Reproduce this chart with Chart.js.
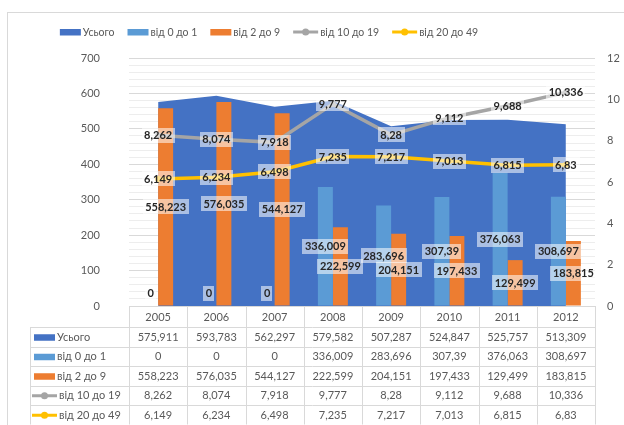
<!DOCTYPE html>
<html><head><meta charset="utf-8">
<script src="https://cdn.jsdelivr.net/npm/chart.js@4/dist/chart.umd.min.js"></script>
<style>html,body{margin:0;padding:0;background:#fff;}#wrap{width:624px;height:425px;position:relative;}</style>
</head><body><div id="wrap"><canvas id="c" width="624" height="425"></canvas></div>
<script>
const years = ['2005','2006','2007','2008','2009','2010','2011','2012'];
const total = [575.911, 593.783, 562.297, 579.582, 507.287, 524.847, 525.757, 513.309];
const age0to1 = [0, 0, 0, 336.009, 283.696, 307.39, 376.063, 308.697];
const age2to9 = [558.223, 576.035, 544.127, 222.599, 204.151, 197.433, 129.499, 183.815];
const age10to19 = [8.262, 8.074, 7.918, 9.777, 8.28, 9.112, 9.688, 10.336];
const age20to49 = [6.149, 6.234, 6.498, 7.235, 7.217, 7.013, 6.815, 6.83];
const seriesNames = ['Усього', 'від 0 до 1', 'від 2 до 9', 'від 10 до 19', 'від 20 до 49'];
const leftAxis = {min: 0, max: 700, major: 100, minor: 20};
const rightAxis = {min: 0, max: 12, step: 2};

const colors = ['#4472C4', '#5B9BD5', '#ED7D31', '#A5A5A5', '#FFC000'];
const kinds = ['rect', 'rect', 'rect', 'line', 'line'];
const allSeries = [total, age0to1, age2to9, age10to19, age20to49];
const FONT = 'Lato, "Open Sans", sans-serif';
const TXT = '#595959';
const fmt = v => String(v).replace('.', ',');

function drawKey(ctx, i, x, cy) {
  ctx.save();
  if (kinds[i] === 'rect') {
    ctx.fillStyle = colors[i];
    ctx.fillRect(x, cy - 3, 21, 6.5);
    ctx.restore();
    return 21;
  }
  ctx.strokeStyle = colors[i];
  ctx.lineWidth = 3;
  ctx.beginPath(); ctx.moveTo(x, cy); ctx.lineTo(x + 25, cy); ctx.stroke();
  ctx.fillStyle = colors[i];
  ctx.beginPath(); ctx.arc(x + 12.5, cy, 3.5, 0, Math.PI * 2); ctx.fill();
  ctx.restore();
  return 25;
}

const framePlugin = {
  id: 'frame',
  beforeDraw(chart) {
    const ctx = chart.ctx;
    ctx.save();
    ctx.fillStyle = '#fff';
    ctx.fillRect(0, 0, chart.width, chart.height);
    ctx.strokeStyle = '#D9D9D9';
    ctx.lineWidth = 1;
    ctx.strokeRect(7.5, 12.5, 800, 600);
    ctx.restore();
  }
};

const legendPlugin = {
  id: 'customLegend',
  afterDraw(chart) {
    const ctx = chart.ctx;
    ctx.save();
    ctx.font = '10.5px ' + FONT;
    const widths = seriesNames.map((n, i) => (kinds[i] === 'rect' ? 21 : 25) + 2 + ctx.measureText(n).width);
    const gap = 13;
    const totalW = widths.reduce((a, b) => a + b, 0) + gap * (widths.length - 1);
    const centerX = 269, cy = 32;
    let x = centerX - totalW / 2;
    seriesNames.forEach((n, i) => {
      const w = drawKey(ctx, i, x, cy);
      ctx.fillStyle = TXT;
      ctx.textBaseline = 'middle';
      ctx.textAlign = 'left';
      ctx.fillText(n, x + w + 2, cy + 0.5);
      x += widths[i] + gap;
    });
    ctx.restore();
  }
};

const labelPlugin = {
  id: 'boxLabels',
  afterDatasetsDraw(chart) {
    const ctx = chart.ctx;
    const ca = chart.chartArea;
    ctx.save();
    ctx.font = 'bold 11px ' + FONT;
    ctx.textAlign = 'center';
    ctx.textBaseline = 'middle';
    for (let d = 1; d < chart.data.datasets.length; d++) {
      const meta = chart.getDatasetMeta(d);
      const ds = chart.data.datasets[d];
      meta.data.forEach((el, i) => {
        const txt = fmt(ds.data[i]);
        let x = el.x, y;
        if (ds.type === 'bar') {
          y = (el.y + el.base) / 2;
          if (y > ca.bottom - 13) y = ca.bottom - 13;
        } else {
          y = el.y;
        }
        const w = ctx.measureText(txt).width + 5;
        const h = 15;
        ctx.fillStyle = 'rgba(255,255,255,0.55)';
        ctx.fillRect(Math.round(x - w / 2), Math.round(y - h / 2), Math.round(w), h);
        ctx.fillStyle = '#262626';
        ctx.fillText(txt, x, y + 0.5);
      });
    }
    ctx.restore();
  }
};

const tablePlugin = {
  id: 'dataTable',
  afterDraw(chart) {
    const ctx = chart.ctx;
    const ca = chart.chartArea;
    const xs = chart.scales.x;
    const n = years.length;
    const colW = (ca.right - ca.left) / n;
    const tableLeft = 30;
    const headerTop = ca.bottom;
    const headerH = 21;
    const rowH = 19.5;
    const bottom = headerTop + headerH + rowH * allSeries.length;
    const px = v => Math.round(v) + 0.5;
    ctx.save();
    ctx.strokeStyle = '#D9D9D9';
    ctx.lineWidth = 1;
    ctx.beginPath();
    ctx.moveTo(ca.left, px(headerTop)); ctx.lineTo(ca.right, px(headerTop));
    for (let r = 0; r <= allSeries.length; r++) {
      const y = px(headerTop + headerH + r * rowH);
      ctx.moveTo(tableLeft, y); ctx.lineTo(ca.right, y);
    }
    ctx.moveTo(px(tableLeft), headerTop + headerH); ctx.lineTo(px(tableLeft), bottom);
    for (let i = 0; i <= n; i++) {
      const x = px(ca.left + i * colW);
      ctx.moveTo(x, headerTop); ctx.lineTo(x, bottom);
    }
    ctx.stroke();

    ctx.font = '11px ' + FONT;
    ctx.fillStyle = TXT;
    ctx.textBaseline = 'middle';
    ctx.textAlign = 'center';
    years.forEach((yr, i) => {
      ctx.fillText(yr, xs.getPixelForValue(i), headerTop + headerH / 2 + 1);
    });
    allSeries.forEach((arr, r) => {
      const cy = headerTop + headerH + r * rowH + rowH / 2 + 0.5;
      ctx.textAlign = 'center';
      ctx.fillStyle = TXT;
      arr.forEach((v, i) => ctx.fillText(fmt(v), xs.getPixelForValue(i), cy));
      const kx = tableLeft + (kinds[r] === 'rect' ? 4 : 2);
      const w = drawKey(ctx, r, kx, cy);
      ctx.textAlign = 'left';
      ctx.fillStyle = TXT;
      ctx.fillText(seriesNames[r], kx + w + 2, cy);
    });
    ctx.restore();
  }
};

new Chart(document.getElementById('c'), {
  type: 'bar',
  data: {
    labels: years,
    datasets: [
      {type: 'line', label: seriesNames[0], data: total, yAxisID: 'y', fill: 'origin',
       backgroundColor: colors[0], borderColor: colors[0], borderWidth: 0, pointRadius: 0, tension: 0, order: 10},
      {type: 'bar', label: seriesNames[1], data: age0to1, yAxisID: 'y', backgroundColor: colors[1],
       categoryPercentage: 0.515, barPercentage: 1, order: 5},
      {type: 'bar', label: seriesNames[2], data: age2to9, yAxisID: 'y', backgroundColor: colors[2],
       categoryPercentage: 0.515, barPercentage: 1, order: 5},
      {type: 'line', label: seriesNames[3], data: age10to19, yAxisID: 'y1', borderColor: colors[3],
       backgroundColor: colors[3], borderWidth: 3.5, pointRadius: 3, pointBorderWidth: 0, tension: 0, fill: false, order: 1},
      {type: 'line', label: seriesNames[4], data: age20to49, yAxisID: 'y1', borderColor: colors[4],
       backgroundColor: colors[4], borderWidth: 3.5, pointRadius: 3, pointBorderWidth: 0, tension: 0, fill: false, order: 1}
    ]
  },
  options: {
    responsive: false,
    animation: false,
    devicePixelRatio: 1,
    layout: {padding: {top: 58, bottom: 119, left: 0, right: 0}},
    plugins: {legend: {display: false}, tooltip: {enabled: false}},
    scales: {
      x: {display: false, offset: true},
      y: {
        position: 'left', min: leftAxis.min, max: leftAxis.max,
        ticks: {stepSize: leftAxis.minor, maxTicksLimit: 200, autoSkip: false, padding: 29,
          color: TXT, font: {family: FONT, size: 11},
          callback: v => (v % leftAxis.major === 0 ? String(v) : '')},
        grid: {drawTicks: false, color: c => (c.tick && c.tick.value % leftAxis.major === 0 ? '#D9D9D9' : '#EDEDED')},
        border: {display: false},
        afterFit: s => { s.width = 129; }
      },
      y1: {
        position: 'right', min: rightAxis.min, max: rightAxis.max,
        ticks: {stepSize: rightAxis.step, padding: 12, color: TXT, font: {family: FONT, size: 11}},
        grid: {display: false, drawTicks: false},
        border: {display: false},
        afterFit: s => { s.width = 29; }
      }
    }
  },
  plugins: [framePlugin, legendPlugin, labelPlugin, tablePlugin]
});
</script></body></html>
